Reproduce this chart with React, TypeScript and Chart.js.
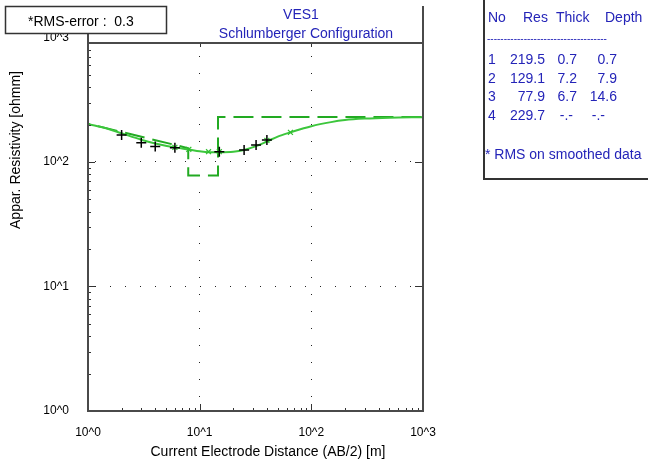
import React, { useEffect, useRef } from "react";
import { Chart, registerables } from "chart.js";

Chart.register(...registerables);

// Field data (AB/2 [m]) and apparent resistivity [ohmm]
const fieldAB = [2, 3, 4, 6, 15, 25, 32, 40];
const fieldRho = [165, 143, 133, 130, 121, 125, 137, 150];

// Smoothed data
const smoothAB = [6, 8, 12, 15, 40, 65];
const smoothRho = [131, 126.5, 121, 121, 149, 173];

// Model response curve
const curveAB = [1, 1.5, 2, 3, 4, 6, 8, 10, 12, 15, 20, 25, 32, 40, 50, 65, 100, 150, 200, 300, 500, 1000];
const curveRho = [202, 185, 170, 151, 141, 131, 126, 122, 120, 120, 121, 125, 134, 146, 160, 173, 194, 209, 217, 223, 227, 229];

// Layered model
const layerNo = [1, 2, 3, 4];
const layerRes = [219.5, 129.1, 77.9, 229.7];
const layerThick: (number | null)[] = [0.7, 7.2, 6.7, null];
const layerDepth: (number | null)[] = [0.7, 7.9, 14.6, null];
const rmsError = 0.3;

// Axis ticks
const axisDecades = [1, 10, 100, 1000];
const axisLabels = ["10^0", "10^1", "10^2", "10^3"];

const FONT = '"Liberation Sans", Arial, sans-serif';
const BLUE = "#2424b8";

function labelFor(v: number) {
  const i = axisDecades.indexOf(v);
  return i >= 0 ? axisLabels[i] : "";
}

const overlay = {
  id: "overlay",
  afterDraw(chart: any) {
    const { ctx, chartArea: a, scales } = chart;
    const xs = scales.x;
    const ys = scales.y;
    ctx.save();
    const seg = (x1: number, y1: number, x2: number, y2: number) => {
      ctx.beginPath();
      ctx.moveTo(x1, y1);
      ctx.lineTo(x2, y2);
      ctx.stroke();
    };
    // tick marks
    ctx.strokeStyle = "#333";
    ctx.lineWidth = 1;
    for (const d of [1, 10, 100]) {
      for (let m = 1; m <= 9; m++) {
        const v = d * m;
        const px = Math.round(xs.getPixelForValue(v)) + 0.5;
        if (px > a.left + 1 && px < a.right - 1) {
          seg(px, a.bottom, px, a.bottom - (m === 1 ? 7 : 3));
          if (m === 1) seg(px, a.top, px, a.top + 4);
        }
        const py = Math.round(ys.getPixelForValue(v)) + 0.5;
        if (py > a.top + 1 && py < a.bottom - 1) {
          seg(a.left, py, a.left + (m === 1 ? 7 : 3), py);
          if (m === 1) seg(a.right, py, a.right - 8, py);
        }
      }
    }
    // frame
    ctx.strokeStyle = "#4a4a4a";
    ctx.lineWidth = 2;
    seg(a.left, 6, a.left, a.bottom + 1);
    seg(a.right, 6, a.right, a.bottom + 1);
    seg(a.left, a.top, a.right, a.top);
    seg(a.left - 1, a.bottom, a.right + 1, a.bottom);

    // RMS box
    ctx.fillStyle = "#ffffff";
    ctx.fillRect(5, 6, 162, 27);
    ctx.strokeStyle = "#333";
    ctx.lineWidth = 1.5;
    ctx.strokeRect(5.5, 6.5, 161, 27);
    ctx.fillStyle = "#000";
    ctx.font = `14px ${FONT}`;
    ctx.textAlign = "left";
    ctx.textBaseline = "middle";
    ctx.fillText("*RMS-error :  " + rmsError.toFixed(1), 28, 22);

    // titles
    ctx.fillStyle = BLUE;
    ctx.textAlign = "center";
    ctx.fillText("VES1", 301, 15);
    ctx.fillText("Schlumberger Configuration", 306, 34);

    // axis titles
    ctx.fillStyle = "#000";
    ctx.fillText("Current Electrode Distance (AB/2) [m]", 268, 452);
    ctx.save();
    ctx.translate(16, 150);
    ctx.rotate(-Math.PI / 2);
    ctx.fillText("Appar. Resistivity [ohmm]", 0, 0);
    ctx.restore();

    // model table
    ctx.strokeStyle = "#333";
    ctx.lineWidth = 2;
    seg(484, 0, 484, 179);
    seg(483, 179, 648, 179);
    ctx.fillStyle = BLUE;
    ctx.textAlign = "left";
    ctx.fillText("No", 488, 18);
    ctx.fillText("Res", 523, 18);
    ctx.fillText("Thick", 556, 18);
    ctx.fillText("Depth", 605, 18);
    ctx.font = `10px ${FONT}`;
    let dashes = "";
    while (ctx.measureText(dashes + "-").width < 120) dashes += "-";
    ctx.fillText(dashes, 487, 39);
    ctx.font = `14px ${FONT}`;
    layerNo.forEach((n, i) => {
      const yy = 60 + i * 18.7;
      ctx.textAlign = "left";
      ctx.fillText(String(n), 488, yy);
      ctx.textAlign = "right";
      ctx.fillText(layerRes[i].toFixed(1), 545, yy);
      const t = layerThick[i];
      const dp = layerDepth[i];
      ctx.fillText(t === null ? "-.-" : t.toFixed(1), t === null ? 573 : 577, yy);
      ctx.fillText(dp === null ? "-.-" : dp.toFixed(1), dp === null ? 605 : 617, yy);
    });
    ctx.textAlign = "left";
    ctx.fillText("* RMS on smoothed data", 485, 155);
    ctx.restore();
  },
};

export default function App() {
  const ref = useRef<HTMLCanvasElement | null>(null);
  useEffect(() => {
    if (!ref.current) return;
    document.body.style.margin = "0";
    const modelPts: { x: number; y: number }[] = [{ x: layerDepth[0] as number, y: layerRes[0] }];
    for (let i = 1; i < layerRes.length - 1; i++) {
      modelPts.push({ x: layerDepth[i] as number, y: layerRes[i] });
      modelPts.push({ x: layerDepth[i] as number, y: layerRes[i + 1] });
    }
    modelPts.push({ x: axisDecades[axisDecades.length - 1], y: layerRes[layerRes.length - 1] });

    const gridColor = (c: any) =>
      c.tick && (c.tick.value === 10 || c.tick.value === 100) ? "#222" : "rgba(0,0,0,0)";

    const chart = new Chart(ref.current, {
      type: "scatter",
      data: {
        datasets: [
          {
            label: "field",
            data: fieldAB.map((x, i) => ({ x, y: fieldRho[i] })),
            showLine: false,
            pointStyle: "cross",
            pointRadius: 5,
            pointBorderColor: "#000",
            pointBorderWidth: 1.5,
            borderColor: "#000",
          },
          {
            label: "smoothed",
            data: smoothAB.map((x, i) => ({ x, y: smoothRho[i] })),
            showLine: false,
            pointStyle: "crossRot",
            pointRadius: 3.5,
            pointBorderColor: "#2ebf2e",
            pointBorderWidth: 1.2,
            borderColor: "#2ebf2e",
          },
          {
            label: "curve",
            data: curveAB.map((x, i) => ({ x, y: curveRho[i] })),
            showLine: true,
            borderColor: "#3cc63c",
            borderWidth: 2,
            pointRadius: 0,
            cubicInterpolationMode: "monotone",
          },
          {
            label: "model",
            data: modelPts,
            showLine: true,
            borderColor: "#22aa22",
            borderWidth: 2,
            borderDash: [20, 8],
            pointRadius: 0,
            tension: 0,
          },
        ],
      } as any,
      options: {
        responsive: false,
        animation: false,
        events: [],
        layout: { padding: { left: 0, right: 225, top: 43, bottom: 0 } },
        plugins: { legend: { display: false }, tooltip: { enabled: false }, title: { display: false } },
        scales: {
          x: {
            type: "logarithmic",
            min: 1,
            max: 1000,
            afterBuildTicks: (s: any) => {
              s.ticks = axisDecades.map((v) => ({ value: v }));
            },
            afterFit: (s: any) => {
              s.height = 55;
            },
            ticks: {
              autoSkip: false,
              maxRotation: 0,
              padding: 14,
              color: "#000",
              font: { family: FONT, size: 12 },
              callback: (v: any) => labelFor(Number(v)),
            },
            grid: { color: gridColor, drawTicks: false, lineWidth: 1 },
            border: { display: false, dash: [1, 16], dashOffset: 4 },
          },
          y: {
            type: "logarithmic",
            min: 1,
            max: 903,
            afterBuildTicks: (s: any) => {
              s.ticks = axisDecades.map((v) => ({ value: v }));
            },
            afterFit: (s: any) => {
              s.width = 88;
            },
            ticks: {
              autoSkip: false,
              padding: 19,
              color: "#000",
              font: { family: FONT, size: 12 },
              callback: (v: any) => labelFor(Number(v)),
            },
            grid: { color: gridColor, drawTicks: false, lineWidth: 1 },
            border: { display: false, dash: [1, 14], dashOffset: 8 },
          },
        },
      } as any,
      plugins: [overlay],
    });
    return () => chart.destroy();
  }, []);
  return (
    <canvas
      ref={ref}
      width={648}
      height={466}
      style={{ position: "absolute", left: 0, top: 0, display: "block", background: "#fff" }}
    />
  );
}
